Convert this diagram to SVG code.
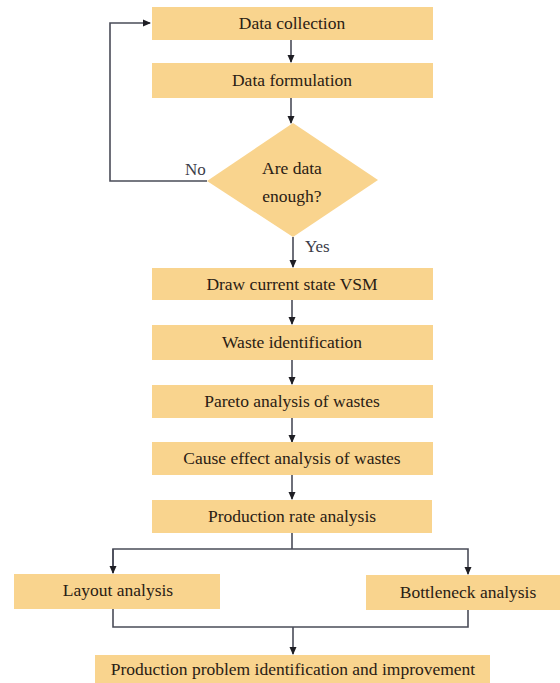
<svg xmlns="http://www.w3.org/2000/svg" width="560" height="683" viewBox="0 0 560 683">
<style>
.box{fill:#F9D48E;}
.t{font-family:"Liberation Serif","Times New Roman",serif;font-size:17.5px;fill:#2a2014;text-anchor:middle;dominant-baseline:central;}
.lbl{font-family:"Liberation Serif","Times New Roman",serif;font-size:17px;fill:#3c3c48;}
.c{fill:none;stroke:#4a4c58;stroke-width:1.6;}
</style>
<defs>
<marker id="ah" markerWidth="8" markerHeight="8" refX="7" refY="4" orient="auto" markerUnits="userSpaceOnUse">
<path d="M0,0.5 L8,4 L0,7.5 Z" fill="#1e1e24"/>
</marker>
</defs>
<rect width="560" height="683" fill="#ffffff"/>
<g id="connectors">
<path class="c" d="M291,40 V62" marker-end="url(#ah)"/>
<path class="c" d="M291,98 V123" marker-end="url(#ah)"/>
<path class="c" d="M207,181 H110 V23 H150" marker-end="url(#ah)"/>
<path class="c" d="M293,237 V267" marker-end="url(#ah)"/>
<path class="c" d="M292,300 V324" marker-end="url(#ah)"/>
<path class="c" d="M292,360 V384" marker-end="url(#ah)"/>
<path class="c" d="M292,418 V442" marker-end="url(#ah)"/>
<path class="c" d="M292,475 V499" marker-end="url(#ah)"/>
<path class="c" d="M292,533 V549"/>
<path class="c" d="M113,573 V549 H468 V574" marker-end="url(#ah)"/>
<path class="c" d="M113,549 V573" marker-end="url(#ah)"/>
<path class="c" d="M113,609 V627 H468 V610"/>
<path class="c" d="M293,627 V654" marker-end="url(#ah)"/>
<text class="lbl" x="185" y="175">No</text>
<text class="lbl" x="305" y="252">Yes</text>
</g>
<g id="n1"><rect class="box" x="152" y="7" width="281" height="33"/><text class="t" x="292" y="23">Data collection</text></g>
<g id="n2"><rect class="box" x="152" y="63" width="281" height="35"/><text class="t" x="292" y="80">Data formulation</text></g>
<g id="n3"><polygon class="box" points="293,123 378,180 293,237 207,181"/><text class="t" x="292" y="168">Are data</text><text class="t" x="292" y="196">enough?</text></g>
<g id="n4"><rect class="box" x="152" y="268" width="281" height="32"/><text class="t" x="292" y="284">Draw current state VSM</text></g>
<g id="n5"><rect class="box" x="152" y="325" width="281" height="35"/><text class="t" x="292" y="342">Waste identification</text></g>
<g id="n6"><rect class="box" x="152" y="385" width="281" height="33"/><text class="t" x="292" y="401">Pareto analysis of wastes</text></g>
<g id="n7"><rect class="box" x="152" y="442" width="281" height="33"/><text class="t" x="292" y="458">Cause effect analysis of wastes</text></g>
<g id="n8"><rect class="box" x="152" y="500" width="280" height="33"/><text class="t" x="292" y="516">Production rate analysis</text></g>
<g id="n9"><rect class="box" x="14" y="574" width="206" height="35"/><text class="t" x="118" y="590">Layout analysis</text></g>
<g id="n10"><rect class="box" x="366" y="575" width="194" height="35"/><text class="t" x="468" y="592">Bottleneck analysis</text></g>
<g id="n11"><rect class="box" x="95" y="655" width="395" height="30"/><text class="t" x="293" y="669">Production problem identification and improvement</text></g>
</svg>
